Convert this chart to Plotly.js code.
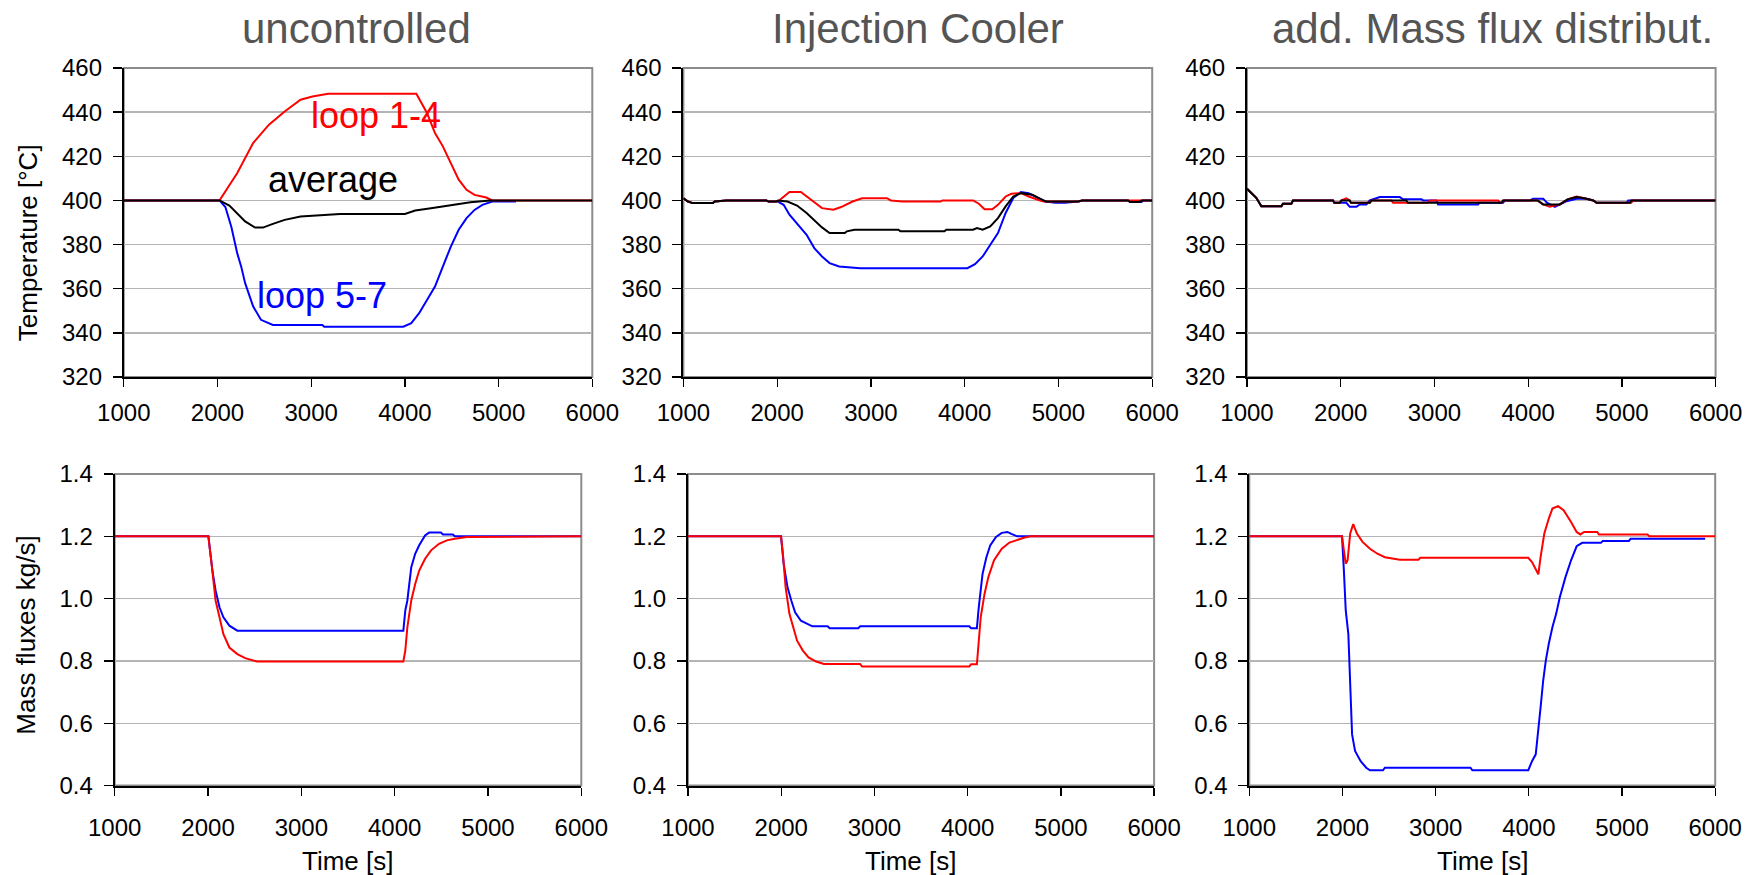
<!DOCTYPE html>
<html>
<head>
<meta charset="utf-8">
<script src="https://cdn.plot.ly/plotly-3.0.1.min.js"></script>
<style>
  html, body { margin: 0; padding: 0; background: #ffffff; }
  #chart { width: 1764px; height: 875px; }
</style>
</head>
<body>
<div id="chart"></div>
<script>
// ---------------- Panel titles / labels ----------------
const panelTitles = ["uncontrolled", "Injection Cooler", "add. Mass flux distribut."];
const tempAxisTitle = "Temperature [°C]";
const fluxAxisTitle = "Mass fluxes kg/s]";
const timeAxisTitle = "Time [s]";
const seriesLabels = ["loop 1-4", "average", "loop 5-7"];
const timeTicks = [1000, 2000, 3000, 4000, 5000, 6000];
const tempTicks = [320, 340, 360, 380, 400, 420, 440, 460];
const fluxTicks = [0.4, 0.6, 0.8, 1.0, 1.2, 1.4];

// ---------------- Temperature: uncontrolled ----------------
const ucTempRed_t = [1000, 2021, 2211, 2380, 2549, 2717, 2886, 3013, 3181, 4122, 4236, 4321, 4405, 4489, 4574, 4658, 4743, 4869, 4932, 6000];
const ucTempRed   = [400, 400, 412.4, 426, 434.3, 440.3, 445.6, 447.1, 448.3, 448.3, 439.6, 430.5, 424.5, 416.9, 409.4, 404.8, 402.5, 401.3, 400, 400];
const ucTempBlue_t = [1000, 2021, 2084, 2148, 2211, 2253, 2295, 2380, 2464, 2591, 3118, 3140, 3983, 4068, 4152, 4236, 4321, 4405, 4489, 4574, 4658, 4743, 4827, 4932, 5186];
const ucTempBlue   = [400, 400, 397, 388, 376, 370, 362.5, 352, 345.9, 343.6, 343.6, 342.8, 342.8, 344.4, 348.9, 354.9, 361, 370, 379, 386.7, 392, 395.7, 398, 399.5, 399.5];
const ucTempAvg_t = [1000, 2021, 2127, 2211, 2295, 2401, 2485, 2591, 2717, 2886, 3055, 3308, 4000, 4110, 4278, 4489, 4700, 4911, 6000];
const ucTempAvg   = [400, 400, 397.7, 394, 390.5, 387.7, 387.7, 389.4, 391.2, 392.7, 393.2, 393.9, 393.9, 395.4, 396.5, 397.7, 399.2, 400, 400];

// ---------------- Temperature: injection cooler ----------------
const icTempRed_t = [1000, 1049, 1100, 1314, 1335, 1457, 1886, 1906, 2008, 2069, 2131, 2253, 2314, 2396, 2478, 2600, 2682, 2804, 2906, 3171, 3212, 3335, 3743, 3763, 4090, 4151, 4212, 4294, 4355, 4437, 4498, 4600, 4682, 4804, 4845, 5212, 5253, 6000];
const icTempRed   = [401, 399.5, 398.8, 398.8, 399.5, 400, 400, 399.5, 399.5, 401.8, 403.8, 403.8, 401.8, 398.8, 396.5, 395.8, 397, 399.5, 401, 401, 400, 399.5, 399.5, 400, 400, 398.5, 396, 396, 398, 401.8, 403, 403.3, 401.8, 400, 399.5, 399.5, 400, 400];
const icTempBlue_t = [1000, 1049, 1100, 1314, 1335, 1457, 1886, 1906, 2008, 2069, 2131, 2233, 2314, 2396, 2478, 2559, 2661, 2886, 4029, 4110, 4192, 4273, 4355, 4437, 4518, 4600, 4682, 4763, 4865, 4967, 5069, 5212, 5253, 5743, 5763, 5886, 5906, 6000];
const icTempBlue   = [401, 399.5, 398.8, 398.8, 399.5, 400, 400, 399.5, 399.5, 398, 393.5, 388.2, 384.4, 378.4, 374.6, 371.6, 370.1, 369.3, 369.3, 371.1, 374.6, 379.9, 385.2, 394.3, 401.1, 403.8, 403.3, 401.5, 399.5, 399, 399, 399.5, 400, 400, 399.3, 399.3, 400, 400];
const icTempAvg_t = [1000, 1049, 1100, 1314, 1335, 1457, 1886, 1906, 1990, 2008, 2110, 2212, 2314, 2396, 2478, 2559, 2722, 2743, 2824, 3294, 3314, 3784, 3804, 4090, 4131, 4192, 4273, 4355, 4437, 4518, 4600, 4722, 4865, 5212, 5253, 5743, 5763, 5865, 5886, 6000];
const icTempAvg   = [401, 399.5, 398.8, 398.8, 399.5, 400, 400, 399.5, 399.5, 400, 399.5, 397.7, 394.3, 391.2, 387.8, 385.2, 385.2, 386, 386.7, 386.7, 386, 386, 386.7, 386.7, 387.5, 386.7, 388.2, 392, 397.3, 401.8, 403.3, 402.6, 399.5, 399.5, 400, 400, 399.3, 399.3, 400, 400];

// ---------------- Temperature: additional mass flux distribution ----------------
const mfTempRed_t = [1000, 1040, 1099, 1153, 1367, 1384, 1473, 1491, 1918, 1932, 1989, 2007, 2060, 2096, 2110, 2310, 2330, 2540, 2559, 2930, 2950, 3680, 3700, 3715, 3733, 4100, 4160, 4231, 4338, 4420, 4516, 4600, 4694, 4730, 5100, 5120, 6000];
const mfTempRed   = [405.3, 403.8, 401.2, 397.4, 397.4, 398.5, 398.5, 400, 400, 398.9, 398.9, 400, 400.9, 400, 398.9, 398.9, 400, 400, 398.9, 398.9, 400, 400, 398.9, 398.9, 400, 400, 398.2, 397.1, 398.2, 400.5, 401.8, 401, 400, 398.9, 398.9, 400, 400];
const mfTempBlue_t = [1000, 1040, 1099, 1153, 1367, 1384, 1473, 1491, 1918, 1932, 2060, 2096, 2167, 2203, 2274, 2310, 2380, 2417, 2630, 2665, 2861, 2880, 3020, 3039, 3466, 3480, 3733, 3750, 4020, 4053, 4160, 4200, 4285, 4400, 4516, 4623, 4694, 4730, 5050, 5068, 6000];
const mfTempBlue   = [405.3, 403.8, 401.2, 397.4, 397.4, 398.5, 398.5, 400, 400, 398.9, 398.9, 397.1, 397.1, 398.2, 398.2, 400, 400.8, 401.5, 401.5, 400.5, 400.5, 400, 400, 398.2, 398.2, 398.9, 398.9, 400, 400, 400.8, 400.8, 399, 397.1, 399.5, 400.8, 400.8, 400, 398.9, 398.9, 400, 400];
const mfTempAvg_t = [1000, 1040, 1099, 1153, 1367, 1384, 1473, 1491, 1918, 1932, 1989, 2007, 2096, 2110, 2310, 2330, 2700, 2717, 3715, 3733, 4100, 4160, 4338, 4420, 4516, 4600, 4694, 4730, 5085, 5100, 6000];
const mfTempAvg   = [405.3, 403.8, 401.2, 397.4, 397.4, 398.5, 398.5, 400, 400, 398.9, 398.9, 400, 400, 398.9, 398.9, 400, 400, 398.9, 398.9, 400, 400, 398.2, 398.2, 400.5, 401.5, 401, 400, 398.9, 398.9, 400, 400];

// ---------------- Mass flux: uncontrolled ----------------
const ucFluxBlue_t = [1000, 2004, 2017, 2047, 2081, 2123, 2165, 2229, 2314, 4093, 4114, 4136, 4178, 4220, 4263, 4326, 4369, 4496, 4517, 4623, 4644, 6000];
const ucFluxBlue   = [1.2, 1.2, 1.166, 1.09, 1.026, 0.972, 0.94, 0.913, 0.897, 0.897, 0.962, 0.994, 1.101, 1.144, 1.171, 1.203, 1.212, 1.212, 1.206, 1.206, 1.2, 1.2];
const ucFluxRed_t = [1000, 2004, 2038, 2081, 2123, 2165, 2229, 2314, 2398, 2483, 2525, 4093, 4114, 4136, 4178, 4220, 4263, 4326, 4390, 4475, 4559, 4644, 4771, 6000];
const ucFluxRed   = [1.2, 1.2, 1.112, 0.994, 0.94, 0.886, 0.843, 0.822, 0.809, 0.802, 0.798, 0.798, 0.833, 0.908, 0.994, 1.047, 1.09, 1.128, 1.155, 1.176, 1.187, 1.192, 1.198, 1.2];

// ---------------- Mass flux: injection cooler ----------------
const icFluxBlue_t = [1000, 1998, 2026, 2067, 2108, 2149, 2211, 2272, 2334, 2498, 2519, 2827, 2847, 4017, 4037, 4099, 4119, 4160, 4201, 4242, 4304, 4366, 4427, 4469, 4530, 6000];
const icFluxBlue   = [1.2, 1.2, 1.112, 1.037, 0.994, 0.956, 0.929, 0.919, 0.911, 0.911, 0.905, 0.905, 0.911, 0.911, 0.905, 0.905, 0.972, 1.08, 1.133, 1.171, 1.198, 1.211, 1.214, 1.208, 1.2, 1.2];
const icFluxRed_t = [1000, 1998, 2018, 2047, 2088, 2129, 2170, 2232, 2293, 2375, 2457, 2847, 2868, 4017, 4037, 4099, 4119, 4140, 4181, 4222, 4283, 4366, 4448, 4530, 4612, 4674, 6000];
const icFluxRed   = [1.2, 1.2, 1.144, 1.037, 0.951, 0.908, 0.865, 0.833, 0.811, 0.798, 0.79, 0.79, 0.782, 0.782, 0.789, 0.789, 0.876, 0.94, 1.015, 1.069, 1.123, 1.16, 1.18, 1.189, 1.196, 1.2, 1.2];

// ---------------- Mass flux: additional mass flux distribution ----------------
const mfFluxRed_t = [1000, 1995, 2015, 2035, 2055, 2083, 2115, 2155, 2215, 2295, 2375, 2455, 2615, 2815, 2835, 3994, 4034, 4074, 4102, 4126, 4166, 4214, 4253, 4313, 4373, 4453, 4513, 4553, 4593, 4733, 4753, 5273, 5293, 6000];
const mfFluxRed   = [1.2, 1.2, 1.155, 1.112, 1.123, 1.209, 1.239, 1.209, 1.182, 1.16, 1.144, 1.133, 1.125, 1.125, 1.131, 1.131, 1.117, 1.096, 1.078, 1.133, 1.209, 1.257, 1.289, 1.297, 1.284, 1.246, 1.214, 1.206, 1.214, 1.214, 1.206, 1.206, 1.2, 1.2];
const mfFluxBlue_t = [1000, 1995, 2015, 2035, 2063, 2087, 2103, 2135, 2195, 2255, 2295, 2435, 2455, 3374, 3394, 3994, 4034, 4074, 4102, 4126, 4154, 4182, 4214, 4253, 4293, 4333, 4393, 4453, 4513, 4573, 4773, 4793, 5073, 5093, 5892];
const mfFluxBlue   = [1.2, 1.2, 1.09, 0.962, 0.886, 0.661, 0.564, 0.511, 0.478, 0.457, 0.449, 0.449, 0.457, 0.457, 0.449, 0.449, 0.478, 0.5, 0.575, 0.651, 0.737, 0.801, 0.855, 0.908, 0.951, 1.005, 1.069, 1.123, 1.168, 1.179, 1.179, 1.185, 1.185, 1.192, 1.192];

// ---------------- Styling ----------------
const RED = "#ff0000", BLUE = "#0000ff", BLACK = "#000000";
const FONT = "'Liberation Sans', Arial, Helvetica, sans-serif";

function ln(xa, ya, t, v, color) {
  return { type: "scatter", mode: "lines", x: t, y: v, xaxis: xa, yaxis: ya,
           line: { color: color, width: 2 }, hoverinfo: "skip", showlegend: false };
}

const traces = [
  ln("x", "y", ucTempBlue_t, ucTempBlue, BLUE),
  ln("x", "y", ucTempRed_t, ucTempRed, RED),
  ln("x", "y", ucTempAvg_t, ucTempAvg, BLACK),
  ln("x2", "y2", icTempBlue_t, icTempBlue, BLUE),
  ln("x2", "y2", icTempRed_t, icTempRed, RED),
  ln("x2", "y2", icTempAvg_t, icTempAvg, BLACK),
  ln("x3", "y3", mfTempBlue_t, mfTempBlue, BLUE),
  ln("x3", "y3", mfTempRed_t, mfTempRed, RED),
  ln("x3", "y3", mfTempAvg_t, mfTempAvg, BLACK),
  ln("x4", "y4", ucFluxBlue_t, ucFluxBlue, BLUE),
  ln("x4", "y4", ucFluxRed_t, ucFluxRed, RED),
  ln("x5", "y5", icFluxBlue_t, icFluxBlue, BLUE),
  ln("x5", "y5", icFluxRed_t, icFluxRed, RED),
  ln("x6", "y6", mfFluxBlue_t, mfFluxBlue, BLUE),
  ln("x6", "y6", mfFluxRed_t, mfFluxRed, RED)
];

const W = 1764, H = 875;
function xd(a, b) { return [a / W, b / W]; }
function yd(top, bottom) { return [1 - bottom / H, 1 - top / H]; }

const xDomains = [xd(123.8, 592.3), xd(683.4, 1152.2), xd(1247, 1715.6),
                  xd(114.7, 581.3), xd(688, 1154.1), xd(1249.3, 1715.2)];
const yTop = yd(68, 377), yBot = yd(474, 785.5);

function xAxis(i, anchor, standoff) {
  return { domain: xDomains[i], anchor: anchor, range: [1000, 6000],
           tickvals: timeTicks, ticktext: timeTicks.map(String),
           showgrid: false, zeroline: false, showline: true, linecolor: BLACK, linewidth: 2,
           ticks: "outside", ticklen: 8, tickwidth: 1.3, tickcolor: BLACK,
           ticklabelstandoff: standoff,
           tickfont: { family: FONT, size: 24, color: BLACK }, fixedrange: true };
}
function yAxis(domain, anchor, range, ticks, fmt) {
  return { domain: domain, anchor: anchor, range: range,
           tickvals: ticks, ticktext: ticks.map(v => fmt(v)),
           showgrid: true, gridcolor: "#b4b4b4", gridwidth: 1.3,
           zeroline: false, showline: true, linecolor: BLACK, linewidth: 2,
           ticks: "outside", ticklen: 9, tickwidth: 1.3, tickcolor: BLACK,
           ticklabelstandoff: 6,
           tickfont: { family: FONT, size: 24, color: BLACK }, fixedrange: true };
}
const fmtT = v => String(v);
const fmtF = v => v.toFixed(1);

const layout = {
  width: W, height: H,
  margin: { l: 0, r: 0, t: 0, b: 0 },
  paper_bgcolor: "#ffffff", plot_bgcolor: "#ffffff",
  showlegend: false,
  font: { family: FONT, color: BLACK },
  xaxis: xAxis(0, "y", 5),  yaxis: yAxis(yTop, "x", [320, 460], tempTicks, fmtT),
  xaxis2: xAxis(1, "y2", 5), yaxis2: yAxis(yTop, "x2", [320, 460], tempTicks, fmtT),
  xaxis3: xAxis(2, "y3", 5), yaxis3: yAxis(yTop, "x3", [320, 460], tempTicks, fmtT),
  xaxis4: xAxis(3, "y4", 12), yaxis4: yAxis(yBot, "x4", [0.4, 1.4], fluxTicks, fmtF),
  xaxis5: xAxis(4, "y5", 12), yaxis5: yAxis(yBot, "x5", [0.4, 1.4], fluxTicks, fmtF),
  xaxis6: xAxis(5, "y6", 12), yaxis6: yAxis(yBot, "x6", [0.4, 1.4], fluxTicks, fmtF),
  shapes: ["", "2", "3", "4", "5", "6"].map(s => ({
    type: "rect", xref: "x" + s + " domain", yref: "y" + s + " domain",
    x0: 0, x1: 1, y0: 0, y1: 1, layer: "below",
    line: { color: "#8c8c8c", width: 2 }
  })),
  annotations: [
    { text: panelTitles[0], xref: "paper", yref: "paper", x: 356 / W, y: 1 - 28 / H, showarrow: false,
      xanchor: "center", yanchor: "middle", font: { family: FONT, size: 42, color: "#555555" } },
    { text: panelTitles[1], xref: "paper", yref: "paper", x: 918 / W, y: 1 - 28 / H, showarrow: false,
      xanchor: "center", yanchor: "middle", font: { family: FONT, size: 42, color: "#555555" } },
    { text: panelTitles[2], xref: "paper", yref: "paper", x: 1492 / W, y: 1 - 28 / H, showarrow: false,
      xanchor: "center", yanchor: "middle", font: { family: FONT, size: 42, color: "#555555" } },
    { text: tempAxisTitle, xref: "paper", yref: "paper", x: 27.7 / W, y: 1 - 242.5 / H, showarrow: false,
      textangle: -90, xanchor: "center", yanchor: "middle", font: { family: FONT, size: 26, color: BLACK } },
    { text: fluxAxisTitle, xref: "paper", yref: "paper", x: 25.7 / W, y: 1 - 635 / H, showarrow: false,
      textangle: -90, xanchor: "center", yanchor: "middle", font: { family: FONT, size: 26, color: BLACK } },
    { text: timeAxisTitle, xref: "paper", yref: "paper", x: 347.5 / W, y: 1 - 861 / H, showarrow: false,
      xanchor: "center", yanchor: "middle", font: { family: FONT, size: 26, color: BLACK } },
    { text: timeAxisTitle, xref: "paper", yref: "paper", x: 910 / W, y: 1 - 861 / H, showarrow: false,
      xanchor: "center", yanchor: "middle", font: { family: FONT, size: 26, color: BLACK } },
    { text: timeAxisTitle, xref: "paper", yref: "paper", x: 1482 / W, y: 1 - 861 / H, showarrow: false,
      xanchor: "center", yanchor: "middle", font: { family: FONT, size: 26, color: BLACK } },
    { text: seriesLabels[0], xref: "x", yref: "y", x: 3687, y: 438.7, showarrow: false,
      xanchor: "center", yanchor: "middle", font: { family: FONT, size: 36, color: RED } },
    { text: seriesLabels[1], xref: "x", yref: "y", x: 3234, y: 409.7, showarrow: false,
      xanchor: "center", yanchor: "middle", font: { family: FONT, size: 36, color: BLACK } },
    { text: seriesLabels[2], xref: "x", yref: "y", x: 3114, y: 356.8, showarrow: false,
      xanchor: "center", yanchor: "middle", font: { family: FONT, size: 36, color: BLUE } }
  ]
};

Plotly.newPlot("chart", traces, layout, { staticPlot: true, displayModeBar: false });
</script>
</body>
</html>
